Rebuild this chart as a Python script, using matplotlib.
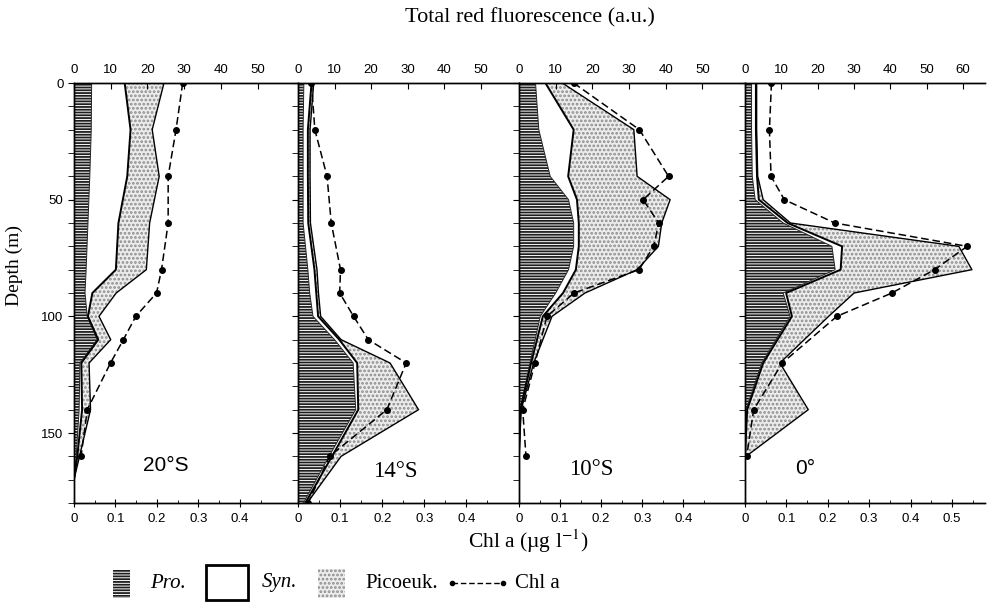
import numpy as np
import matplotlib.pyplot as plt
from matplotlib.patches import Rectangle
from matplotlib.lines import Line2D

plt.rcParams['font.family'] = ['Liberation Sans', 'DejaVu Sans']
plt.rcParams['mathtext.fontset'] = 'stix'
plt.rcParams['hatch.linewidth'] = 1.3

stations = ['20°S', '14°S', '10°S', '0°']

# --- 20°S ---  red fluorescence (a.u.) of each group, stacked
depth_20s = [0, 20, 40, 60, 80, 90, 100, 110, 120, 140, 160, 170]
pro_20s = [4.8, 4.7, 4.3, 3.8, 3.3, 3.0, 3.6, 6.3, 1.6, 1.4, 0.6, 0.0]
syn_20s = [9.0, 10.7, 10.2, 8.3, 8.1, 2.0, 0.2, 0.3, 0.4, 0.8, 0.3, 0.0]
pico_20s = [10.7, 5.9, 8.7, 8.5, 8.3, 6.5, 3.0, 3.4, 2.1, 2.3, 0.6, 0.0]
chl_depth_20s = [0, 20, 40, 60, 80, 90, 100, 110, 120, 140, 160]
chl_20s = [0.262, 0.246, 0.227, 0.227, 0.211, 0.199, 0.149, 0.119, 0.088, 0.032, 0.017]

# --- 14°S ---
depth_14s = [0, 20, 40, 60, 80, 90, 100, 110, 120, 140, 160, 180]
pro_14s = [1.6, 1.4, 1.4, 1.4, 2.7, 3.2, 4.1, 10.0, 15.1, 15.8, 8.5, 1.5]
syn_14s = [2.1, 1.3, 1.3, 1.4, 1.8, 1.8, 1.4, 1.3, 1.1, 0.7, 0.8, 0.5]
pico_14s = [0.6, 0.6, 0.6, 0.6, 0.7, 0.6, 0.7, 0.5, 9.0, 16.5, 2.5, 0.5]
chl_depth_14s = [0, 20, 40, 60, 80, 90, 100, 110, 120, 140, 160, 180]
chl_14s = [0.032, 0.040, 0.069, 0.079, 0.101, 0.099, 0.132, 0.167, 0.257, 0.211, 0.075, 0.024]

# --- 10°S ---
depth_10s = [0, 20, 40, 50, 60, 70, 80, 90, 100, 120, 140, 160]
pro_10s = [4.5, 5.4, 8.5, 13.5, 14.9, 14.9, 13.5, 10.0, 5.8, 3.0, 0.3, 0.0]
syn_10s = [2.7, 9.5, 4.9, 2.3, 1.4, 1.4, 2.0, 2.0, 0.7, 0.3, 0.1, 0.0]
pico_10s = [4.6, 16.4, 18.8, 25.4, 22.6, 21.7, 16.7, 6.0, 2.5, 0.7, 0.2, 0.0]
chl_depth_10s = [0, 20, 40, 50, 60, 70, 80, 90, 100, 120, 140, 160]
chl_10s = [0.133, 0.293, 0.364, 0.302, 0.340, 0.328, 0.292, 0.134, 0.068, 0.039, 0.009, 0.017]

# --- 0° ---
depth_0 = [0, 20, 40, 50, 60, 70, 80, 90, 100, 120, 140, 160]
pro_0 = [1.8, 1.8, 2.0, 2.8, 10.5, 23.9, 24.8, 10.5, 12.4, 4.6, 0.3, 0.0]
syn_0 = [1.2, 1.2, 1.3, 1.0, 1.2, 2.8, 1.5, 0.8, 0.5, 0.4, 0.3, 0.0]
pico_0 = [0.2, 0.2, 0.2, 1.2, 0.8, 32.1, 36.1, 18.7, 10.1, 4.6, 16.8, 0.3]
chl_depth_0 = [0, 20, 40, 50, 60, 70, 80, 90, 100, 120, 140, 160]
chl_0 = [0.064, 0.059, 0.063, 0.095, 0.217, 0.537, 0.458, 0.355, 0.222, 0.090, 0.021, 0.004]

panels = [
    (depth_20s, pro_20s, syn_20s, pico_20s, chl_depth_20s, chl_20s),
    (depth_14s, pro_14s, syn_14s, pico_14s, chl_depth_14s, chl_14s),
    (depth_10s, pro_10s, syn_10s, pico_10s, chl_depth_10s, chl_10s),
    (depth_0, pro_0, syn_0, pico_0, chl_depth_0, chl_0),
]

# layout in pixels
W, H = 992, 613
y_top, y_bot = 83, 503
panel_px = [(74, 298), (298, 519), (519, 745), (745, 985)]
fluo_max = [61, 60.5, 61.6, 66]
chl_max = [0.54, 0.525, 0.55, 0.58]
fluo_ticks = [range(0, 51, 10)] * 3 + [range(0, 61, 10)]
chl_ticks = [[0, 0.1, 0.2, 0.3, 0.4]] * 3 + [[0, 0.1, 0.2, 0.3, 0.4, 0.5]]
label_pos = [(0.41, 0.09), (0.44, 0.075), (0.32, 0.08), (0.25, 0.083)]
label_font = ['Liberation Sans', 'Liberation Serif', 'Liberation Serif', 'Liberation Sans']
label_size = [15, 16.5, 16.5, 15]

pro_style = dict(facecolor='white', edgecolor='#1e1e1e', hatch='------', linewidth=0)
pico_style = dict(facecolor='#ececec', edgecolor='#8c8c8c', hatch='....', linewidth=0)


def fx(px):
    return px / W


def fy(py):
    return 1 - py / H


fig = plt.figure(figsize=(W / 100, H / 100), dpi=100)

for i, (d, pro, syn, pico, cd, chl) in enumerate(panels):
    x0, x1 = panel_px[i]
    ax = fig.add_axes([fx(x0), fy(y_bot), (x1 - x0) / W, (y_bot - y_top) / H])
    pro = np.array(pro)
    ps = pro + np.array(syn)
    tot = ps + np.array(pico)

    ax.fill_betweenx(d, 0, pro, **pro_style)
    ax.fill_betweenx(d, pro, ps, facecolor='white', linewidth=0)
    ax.fill_betweenx(d, ps, tot, **pico_style)
    ax.plot(pro, d, color='#222222', lw=0.7)
    ax.plot(ps, d, color='k', lw=1.4)
    ax.plot(tot, d, color='k', lw=1.0)
    ax.set_xlim(0, fluo_max[i])
    ax.set_ylim(180, 0)

    axc = ax.twiny()
    axc.plot(chl, cd, color='k', ls=(0, (5, 2.5)), lw=1.1, marker='o', ms=4)
    axc.set_xlim(0, chl_max[i])

    ax.xaxis.tick_top()
    axc.xaxis.tick_bottom()
    ax.set_xticks(list(fluo_ticks[i]))
    ax.tick_params(axis='x', direction='in', length=4, labelsize=9.5, pad=5)
    axc.set_xticks(chl_ticks[i])
    axc.set_xticklabels(['0'] + ['%g' % t for t in chl_ticks[i][1:]])
    axc.set_xticks(np.arange(0.05, chl_max[i], 0.1), minor=True)
    axc.tick_params(axis='x', which='major', direction='inout', length=6, labelsize=9.5, pad=4)
    axc.tick_params(axis='x', which='minor', direction='in', length=2.5)

    ax.set_yticks([0, 50, 100, 150])
    ax.set_yticks(range(0, 181, 10), minor=True)
    ax.tick_params(axis='y', which='both', direction='out', length=4)
    if i == 0:
        ax.tick_params(axis='y', labelsize=9.5)
    else:
        ax.tick_params(axis='y', labelleft=False)
    for a in (ax, axc):
        a.spines['right'].set_visible(False)
        for s in a.spines.values():
            s.set_linewidth(1.0)

    axc.text(label_pos[i][0], label_pos[i][1], stations[i], transform=ax.transAxes,
             ha='center', va='center', fontsize=label_size[i], family=label_font[i])

serif = 'Liberation Serif'
fig.text(fx(530), fy(18), 'Total red fluorescence (a.u.)', ha='center', va='center',
         fontsize=16, family=serif)
fig.text(fx(14), fy(265), 'Depth (m)', rotation=90, ha='center', va='center',
         fontsize=14, family=serif)
fig.text(fx(528), fy(541), r'Chl a (µg l$^{-1}$)', ha='center', va='center',
         fontsize=15.5, family=serif)

# legend, drawn by hand in figure pixels
ly = 583
fig.add_artist(Rectangle((fx(113), fy(598)), 17 / W, 28 / H, transform=fig.transFigure,
                         **pro_style))
fig.add_artist(Rectangle((fx(206), fy(600)), 42 / W, 35 / H, transform=fig.transFigure,
                         facecolor='white', edgecolor='k', linewidth=2))
fig.add_artist(Rectangle((fx(318), fy(598)), 27 / W, 29 / H, transform=fig.transFigure,
                         **pico_style))
fig.add_artist(Line2D([fx(452), fx(503)], [fy(ly), fy(ly)], transform=fig.transFigure,
                      color='k', ls=(0, (4, 2)), lw=1, marker='o', ms=3))
leg_text = [(150, 'Pro.', 'italic'), (262, 'Syn.', 'italic'),
            (365, 'Picoeuk.', 'normal'), (515, 'Chl a', 'normal')]
for x, s, st in leg_text:
    fig.text(fx(x), fy(ly), s, ha='left', va='center', fontsize=15, family=serif, style=st)

fig.savefig('out.png', dpi=100)
